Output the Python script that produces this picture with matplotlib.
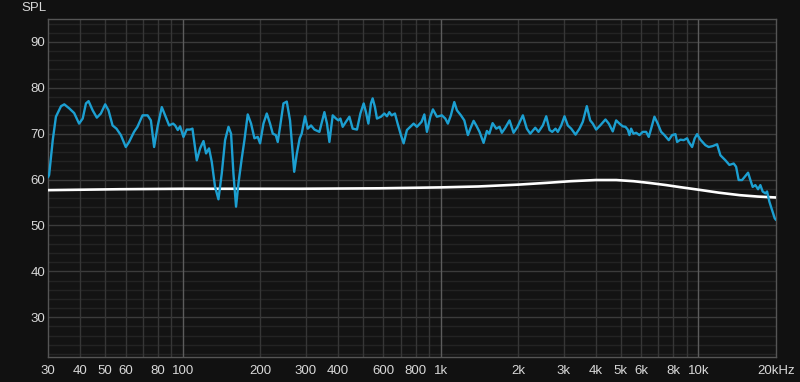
import matplotlib
matplotlib.use("Agg")
import matplotlib.pyplot as plt
import numpy as np

# measured response (Hz, dB)
meas_freq = [30, 30.3, 31.3, 32.2, 33.7, 34.7, 36.3, 37.9, 39.6, 40.9, 42.1, 43.1, 44.7, 46.4,
             48.1, 50.0, 51.5, 53.4, 55.3, 57.5, 60.1, 61.9, 64.7, 66.7, 69.8, 73.0, 75.2,
             77.4, 79.8, 82.9, 85.4, 88.5, 91.7, 93.4, 95.6, 97.6, 100.6, 103.6, 106.7, 109.0,
             113.3, 116.7, 120.3, 123.1, 126.4, 129.5, 133.4, 137.5, 141.6, 145.9, 150.4,
             153.9, 157.2, 160.9, 164.4, 169.3, 173.4, 178.6, 184.0, 189.6, 195.3, 199.4,
             205.5, 211.7, 218.0, 223.4, 229.4, 233.5, 238.4, 245.7, 253.1, 260.6, 266.2,
             270.5, 276.6, 284.1, 289.2, 297.9, 305.2, 314.3, 324.0, 338.8, 354.2, 362.5,
             370.4, 381.5, 392.9, 401.4, 408.6, 417.1, 429.5, 442.8, 456.0, 473.9, 488.5,
             503.1, 513.5, 524.6, 536.8, 545.0, 556.3, 566.4, 587.0, 605.1, 619.3, 632.7,
             645.8, 665.1, 681.3, 701.7, 718.8, 740.3, 763.1, 785.9, 809.4, 843.9, 864.8,
             885.1, 912.5, 933.8, 967.6, 1012, 1043, 1067, 1096, 1130, 1157, 1199, 1236,
             1276, 1304, 1343, 1375, 1416, 1468, 1512, 1545, 1591, 1644, 1693, 1728, 1782,
             1851, 1919, 1988, 2085, 2160, 2227, 2329, 2398, 2492, 2569, 2646, 2710, 2791,
             2849, 2937, 3024, 3115, 3211, 3337, 3458, 3562, 3691, 3804, 3894, 4013, 4159,
             4361, 4491, 4654, 4797, 4941, 5089, 5213, 5321, 5403, 5484, 5599, 5735, 5906,
             6083, 6270, 6418, 6557, 6753, 6954, 7169, 7383, 7673, 7910, 8146, 8269, 8516,
             8770, 9041, 9171, 9454, 9677, 9885, 10180, 10645, 10963, 11363, 11816, 12171,
             12729, 13190, 13705, 14002, 14331, 14773, 15215, 15585, 15911, 16240, 16634,
             17040, 17393, 17753, 18187, 18467, 18849, 19309, 19760, 20000]
meas_spl = [60.5, 61.0, 68.6, 73.7, 76.0, 76.4, 75.5, 74.5, 72.2, 73.3, 76.6, 77.1, 75.1, 73.5,
            74.4, 76.4, 75.1, 71.8, 71.1, 69.7, 67.1, 68.2, 70.4, 71.5, 74.0, 74.0, 72.9,
            67.1, 71.5, 75.8, 74.0, 71.8, 72.2, 71.8, 70.8, 71.6, 69.3, 70.9, 70.9, 71.1,
            64.2, 66.8, 68.4, 65.7, 66.8, 63.9, 58.4, 55.7, 61.3, 68.6, 71.5,
            70.0, 61.3, 54.1, 59.2, 64.6, 68.6, 74.2, 72.2, 69.0, 69.3, 67.9,
            72.2, 74.4, 72.2, 70.0, 69.7, 68.2, 71.5, 76.6, 77.0, 72.9, 66.4,
            61.7, 65.5, 69.0, 70.0, 73.8, 71.1, 71.8, 70.9, 70.4, 74.7, 72.2,
            68.2, 74.0, 73.3, 72.9, 73.3, 71.5, 72.6, 73.7, 71.1, 70.9, 74.4,
            76.6, 74.7, 72.2, 76.6, 77.7, 75.8, 73.3, 73.7, 74.4, 73.8, 74.7,
            74.0, 74.4, 72.2, 69.7, 67.9, 70.8, 71.5, 72.2, 71.5, 72.6, 74.2,
            70.4, 73.7, 75.3, 73.7, 74.0, 73.3, 72.2, 74.0, 76.9, 75.1, 74.0, 72.9,
            69.7, 71.1, 72.8, 71.8, 70.4, 68.0, 70.6, 70.0, 72.3, 71.1, 71.5, 70.2, 71.3,
            72.9, 70.2, 71.5, 74.0, 71.1, 70.0, 71.3, 70.4, 71.8, 73.8, 70.8, 70.4, 71.1,
            70.4, 71.8, 73.8, 71.8, 71.1, 69.8, 71.1, 72.6, 76.0, 72.9, 72.2, 70.9, 71.8,
            73.1, 72.2, 70.5, 72.9, 72.2, 71.6, 71.5, 70.9, 69.7, 71.1, 70.0, 70.2, 69.7,
            70.4, 70.4, 69.3, 71.1, 73.7, 72.2, 70.4, 69.7, 68.6, 69.7, 69.9, 68.2, 68.7,
            68.6, 69.0, 68.2, 67.1, 69.0, 69.9, 68.7, 67.5, 67.1, 67.3, 67.7, 65.3,
            64.2, 63.2, 63.5, 62.8, 59.9, 59.9, 60.8, 61.5, 59.9, 58.4, 58.8,
            57.9, 58.8, 57.4, 57.0, 57.4, 55.2, 53.4, 51.6, 51.2]

# target / reference curve (Hz, dB)
target_freq = [30, 57, 100, 284, 580, 1000, 1400, 2000, 2600, 3200, 4000, 4800, 5600,
               6500, 7500, 8500, 10000, 12000, 14500, 17000, 20000]
target_spl = [57.7, 57.9, 58.0, 58.0, 58.1, 58.3, 58.5, 58.9, 59.3, 59.65, 59.9, 59.9, 59.65,
              59.25, 58.8, 58.35, 57.8, 57.15, 56.6, 56.3, 56.1]

x_ticks = [30, 40, 50, 60, 80, 100, 200, 300, 400, 600, 800, 1000, 2000, 3000, 4000,
           5000, 6000, 8000, 10000, 20000]
x_labels = ["30", "40", "50", "60", "80", "100", "200", "300", "400", "600", "800", "1k",
            "2k", "3k", "4k", "5k", "6k", "8k", "10k", "20kHz"]
y_ticks = [30, 40, 50, 60, 70, 80, 90]

bg = "#111111"
plt.rcParams['font.family'] = ['Liberation Sans', 'DejaVu Sans']

fig = plt.figure(figsize=(8, 3.82), dpi=100, facecolor=bg)
ax = fig.add_axes([0.06, 0.0662, 0.91, 0.8841])
ax.set_facecolor("#131313")
ax.set_xscale("log")
ax.set_xlim(30, 20000)
ax.set_ylim(21.4, 95)

# grid lines
for y in np.arange(22, 95, 2):
    if y % 10 == 0:
        ax.axhline(y, color="#3b3b3b", lw=1.0, zorder=1)
    else:
        ax.axhline(y, color="#232323", lw=1.0, zorder=1)
for decade in [10, 100, 1000, 10000]:
    for m in range(1, 10):
        f = decade * m
        if f <= 30 or f >= 20000:
            continue
        if m == 1:
            ax.axvline(f, color="#5c5c5c", lw=1.0, zorder=1)
        else:
            ax.axvline(f, color="#363636", lw=1.0, zorder=1)

ax.plot(target_freq, target_spl, color="white", lw=1.9, zorder=3, solid_capstyle="round")
ax.plot(meas_freq, meas_spl, color="#1c9fd1", lw=1.7, zorder=4,
        solid_joinstyle="round", solid_capstyle="round")

ax.set_xticks(x_ticks)
ax.set_xticklabels(x_labels)
ax.xaxis.set_minor_locator(matplotlib.ticker.NullLocator())
ax.set_yticks(y_ticks)
ax.tick_params(axis="both", length=0, colors="#d8d8d8", labelsize=9.5)
ax.tick_params(axis="x", pad=6)
ax.tick_params(axis="y", pad=2)

for s in ax.spines.values():
    s.set_color("#555555")
    s.set_linewidth(1.0)

fig.text(0.043, 0.978, "SPL", color="#d8d8d8", fontsize=9.5, ha="center", va="center")

fig.savefig("out.png", dpi=100, facecolor=bg)
